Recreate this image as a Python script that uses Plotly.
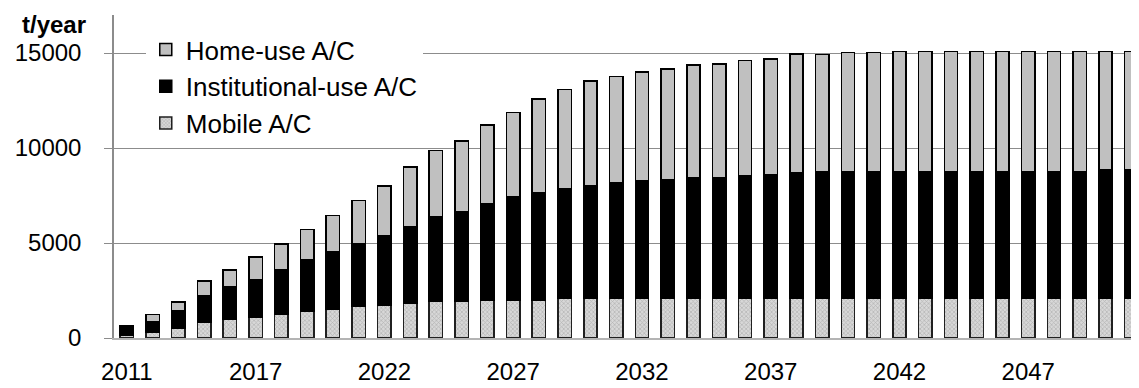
import plotly.graph_objects as go

years = ["2011", "2013", "2014", "2015", "2016", "2017", "2018", "2019", "2020", "2021",
         "2022", "2023", "2024", "2025", "2026", "2027", "2028", "2029", "2030", "2031",
         "2032", "2033", "2034", "2035", "2036", "2037", "2038", "2039", "2040", "2041",
         "2042", "2043", "2044", "2045", "2046", "2047", "2048", "2049", "2050", "2051"]

mobile = [130, 310, 490, 820, 990, 1070, 1240, 1400, 1490, 1670,
          1740, 1825, 1910, 1910, 1980, 1980, 1980, 2070, 2070, 2070,
          2070, 2070, 2070, 2070, 2070, 2070, 2070, 2070, 2070, 2070,
          2070, 2070, 2070, 2070, 2070, 2070, 2070, 2070, 2070, 2070]

institutional = [500, 570, 970, 1430, 1690, 2020, 2360, 2720, 3040, 3280,
                 3630, 4050, 4490, 4740, 5110, 5440, 5690, 5770, 5950, 6110,
                 6190, 6280, 6370, 6370, 6460, 6540, 6610, 6700, 6700, 6700,
                 6700, 6700, 6700, 6700, 6700, 6700, 6700, 6700, 6790, 6790]

home = [0, 350, 440, 740, 900, 1170, 1340, 1580, 1930, 2280,
        2630, 3120, 3460, 3710, 4110, 4460, 4900, 5240, 5500, 5590,
        5750, 5820, 5920, 5990, 6080, 6070, 6260, 6160, 6250, 6250,
        6320, 6320, 6320, 6320, 6320, 6320, 6320, 6320, 6230, 6230]

tick_years = ["2011", "2017", "2022", "2027", "2032", "2037", "2042", "2047"]
y_ticks = [0, 5000, 10000, 15000]
y_tick_text = ["0", "5000", "10000", "15000"]

fig = go.Figure()
fig.add_trace(go.Bar(
    x=years, y=mobile, name="Mobile A/C", legendgroup="m", legendrank=3,
    marker=dict(color="#c8c8c8", line=dict(color="#202020", width=1.5),
                pattern=dict(shape="x", fgcolor="#8c8c8c", bgcolor="#d8d8d8",
                             size=3, solidity=0.4))))
fig.add_trace(go.Bar(
    x=years, y=institutional, name="Institutional-use A/C", legendgroup="i",
    legendrank=2,
    marker=dict(color="#000000", line=dict(color="#000000", width=1.5))))
fig.add_trace(go.Bar(
    x=years, y=home, name="Home-use A/C", legendgroup="h", legendrank=1,
    marker=dict(color="#c0c0c0", line=dict(color="#000000", width=1.5))))

fig.update_layout(
    width=1139, height=388,
    margin=dict(l=98, r=8, t=7, b=58),
    barmode="stack", bargap=0.48,
    plot_bgcolor="white", paper_bgcolor="white",
    font=dict(family="Liberation Sans, Arial, sans-serif", size=24, color="black"),
    showlegend=True,
    legend=dict(x=0.031, y=0.966, xanchor="left", yanchor="top",
                traceorder="grouped", tracegroupgap=0,
                bgcolor="white", borderwidth=0,
                font=dict(family="Liberation Sans, Arial, sans-serif", size=26)),
    xaxis=dict(type="category", range=[-0.5, 39.3],
               tickmode="array", tickvals=tick_years, ticktext=tick_years,
               showline=True, linecolor="#b4b4b4", linewidth=1.5,
               ticks="", showgrid=False, ticklabelstandoff=11,
               tickfont=dict(size=24)),
    yaxis=dict(range=[0, 17000], tickmode="array", tickvals=y_ticks,
               ticktext=y_tick_text,
               showline=True, linecolor="#8c8c8c", linewidth=1.5,
               showgrid=True, gridcolor="#8c8c8c", gridwidth=1.2,
               ticks="outside", ticklen=8, tickcolor="#8c8c8c", tickwidth=1.2,
               ticklabelstandoff=18, zeroline=False,
               tickfont=dict(size=24)),
    annotations=[dict(text="<b>t/year</b>", xref="paper", yref="paper",
                      x=-0.092, y=0.972, xanchor="left", yanchor="middle",
                      showarrow=False, font=dict(size=24, color="black"))],
)

fig.write_html("out.html")
